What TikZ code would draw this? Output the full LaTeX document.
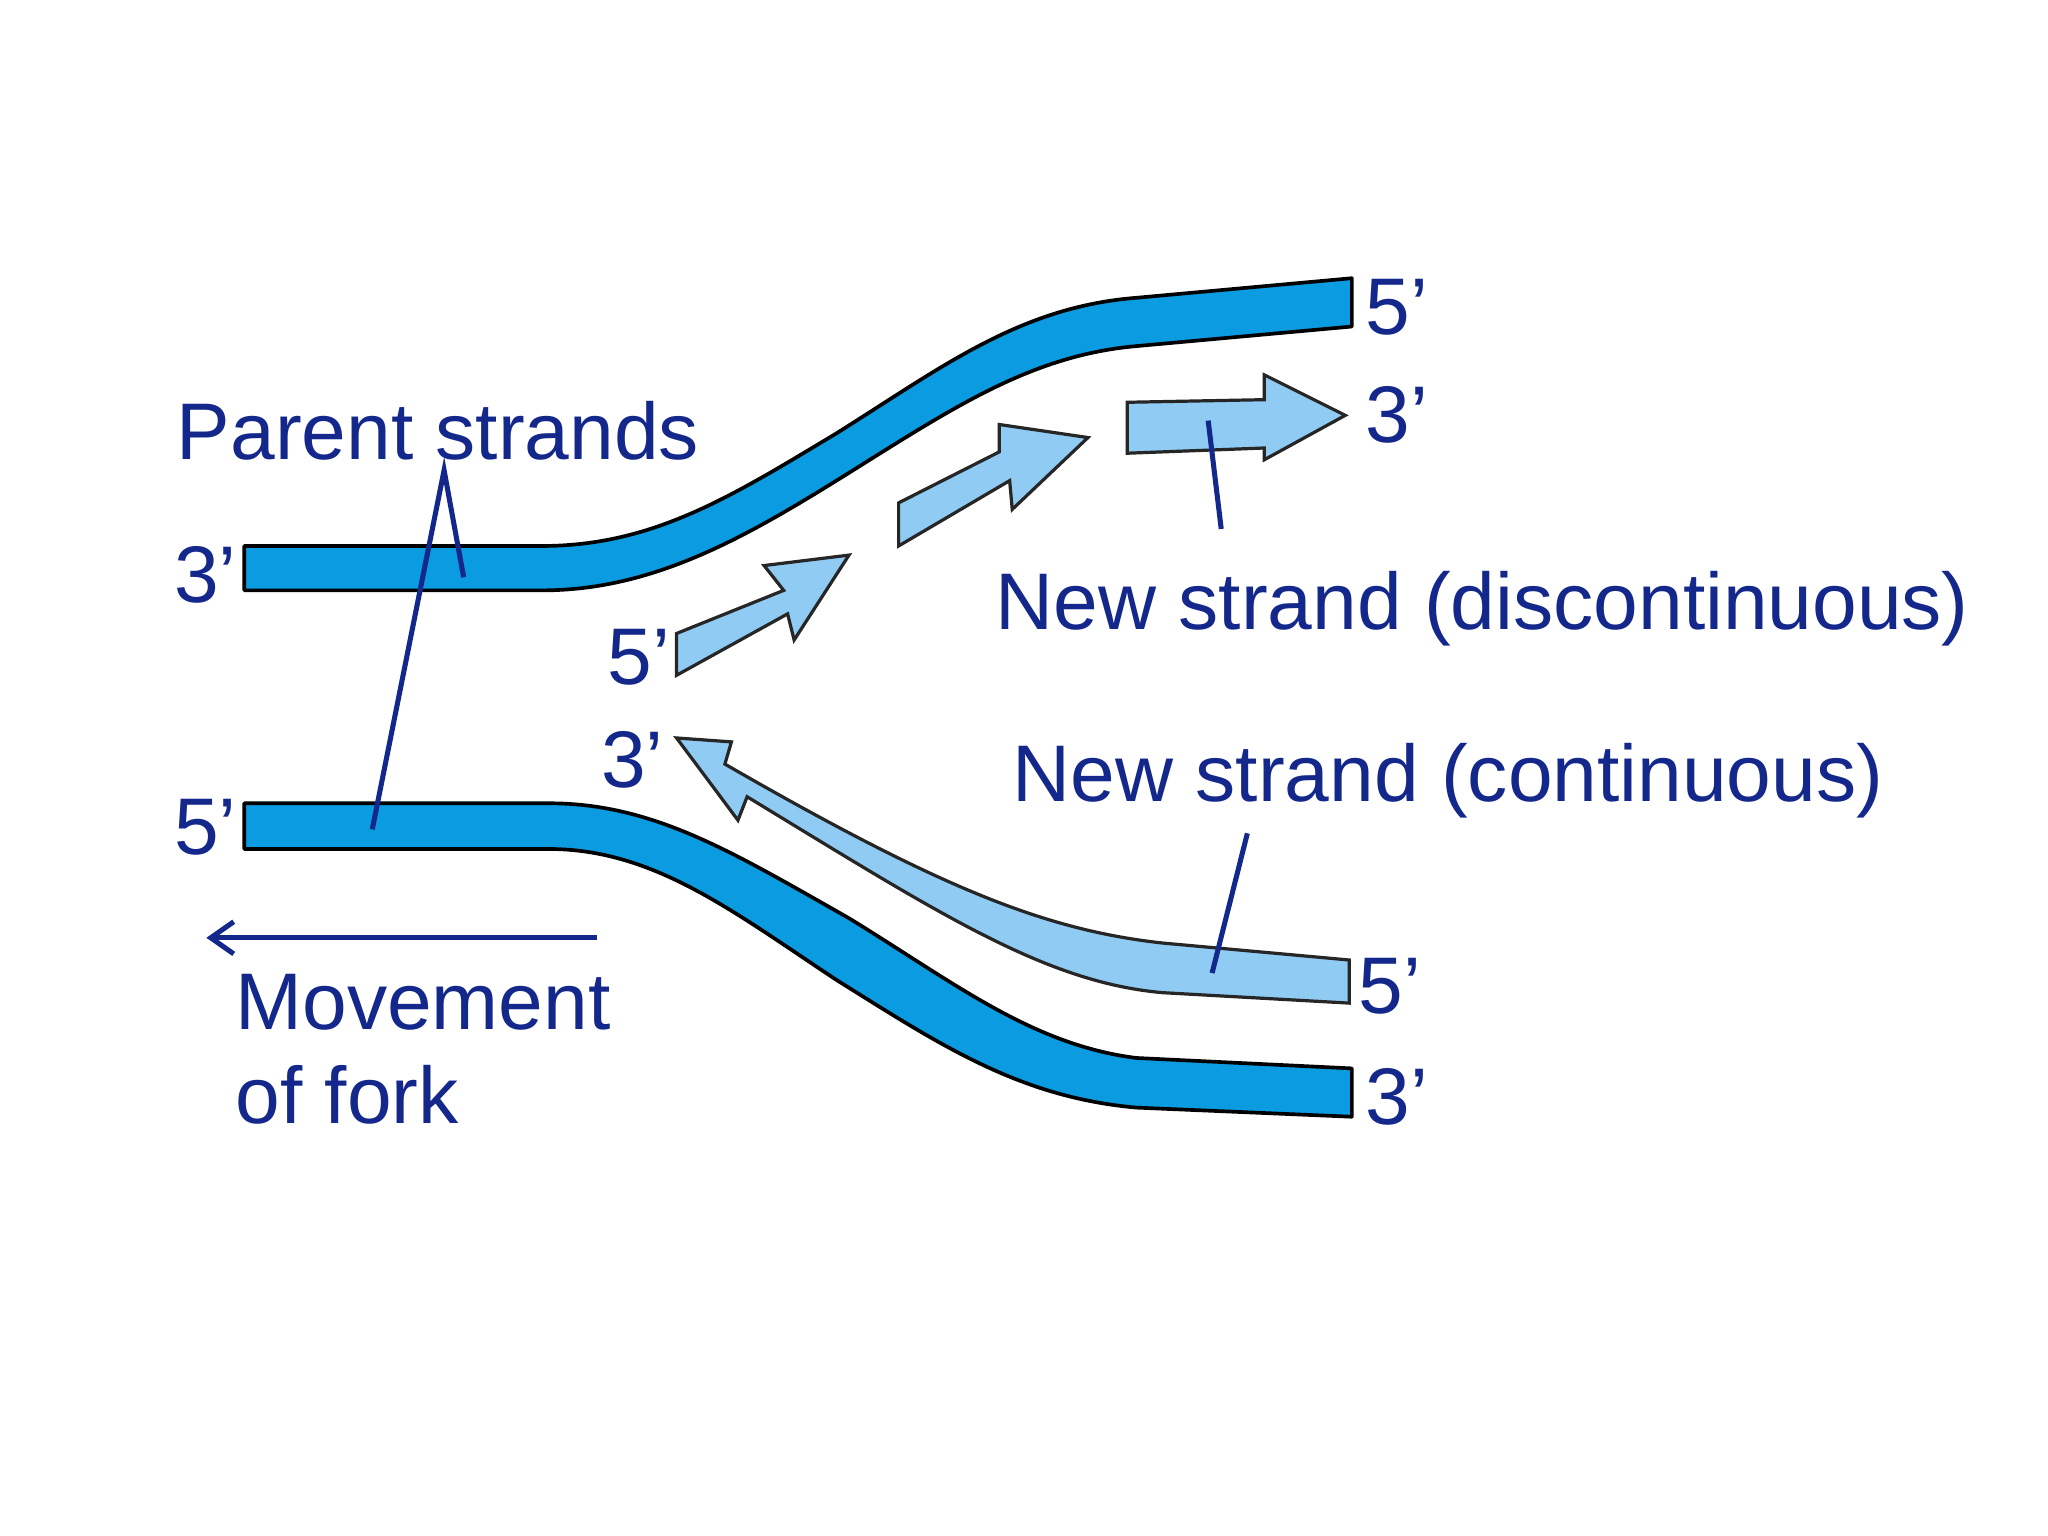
\documentclass[tikz,border=0pt]{standalone}
\usepackage{fontspec}
\usetikzlibrary{arrows.meta}
\setmainfont{Liberation Sans}
\begin{document}
\begin{tikzpicture}[x=0.02cm,y=-0.02cm,
  strand/.style={fill=sblue,draw=black,line width=1.6pt,line join=round},
  newst/.style={fill=lblue,draw=black!85,line width=1.4pt,line join=miter},
  lbl/.style={text=tblue,font=\fontsize{35}{40}\selectfont,inner sep=0pt,anchor=west},
  ptr/.style={draw=tblue,line width=2.2pt}]
\definecolor{sblue}{HTML}{0A9BE0}
\definecolor{lblue}{HTML}{8FCBF3}
\definecolor{tblue}{HTML}{14288C}
\useasboundingbox (0,0) rectangle (1568,1176);
% parent strands
\path[strand] (187,418)--(415,418) .. controls (500,418) and (560,380) .. (640,332) .. controls (720,282) and (780,235) .. (870,228) -- (1035,213)
 -- (1035,250) -- (870,265) .. controls (790,272) and (730,312) .. (650,362) .. controls (570,412) and (500,452) .. (415,452) -- (187,452) -- cycle;
\path[strand] (187,615)--(420,615) .. controls (500,615) and (560,652) .. (650,703) .. controls (730,752) and (790,800) .. (870,810) -- (1035,818)
 -- (1035,855) -- (870,848) .. controls (780,840) and (720,800) .. (640,750) .. controls (560,697) and (500,650) .. (420,650) -- (187,650) -- cycle;
% continuous new strand
\path[newst] (1033,735) -- (890,722) .. controls (800,712) and (720,680) .. (555,585) -- (560,568) -- (518,565) -- (565,628) -- (572,610)
 .. controls (720,700) and (800,752) .. (890,760) -- (1033,768) -- cycle;
% fragments
\path[newst] (518,485) -- (600,452) -- (585,433) -- (650,425) -- (608,490) -- (603,470) -- (518,517) -- cycle;
\path[newst] (688,385) -- (765,346) -- (765,325) -- (833,335) -- (775,390) -- (773,368) -- (688,418) -- cycle;
\path[newst] (863,308) -- (968,306) -- (968,287) -- (1030,318) -- (968,352) -- (968,343) -- (863,347) -- cycle;
% labels
\node[lbl] (t5a) at (1045,235) {5’};
\node[lbl] (t3a) at (1045,318) {3’};
\node[lbl] (l3) at (133,440) {3’};
\node[lbl] (l5) at (133,633) {5’};
\node[lbl] (m5) at (465,503) {5’};
\node[lbl] (m3) at (460,582) {3’};
\node[lbl] (b5) at (1040,755) {5’};
\node[lbl] (b3) at (1045,840) {3’};
\node[lbl] (ps) at (135,330) {Parent strands};
\node[lbl] (nd) at (762,466) {New strand (discontinuous)};
\node[lbl] (nc) at (775,598) {New strand (continuous)};
\node[lbl] (mv) at (180,767) {Movement};
\node[lbl] (of) at (180,838) {of fork};
% pointers
\coordinate (apex) at (340,360);
\coordinate (p1) at (355,442);
\coordinate (p2) at (285,635);
\draw[ptr] (p1) -- (apex) -- (p2);
\coordinate (d1) at (925,322); \coordinate (d2) at (935,405);
\draw[ptr] (d1) -- (d2);
\coordinate (c1) at (955,638); \coordinate (c2) at (928,745);
\draw[ptr] (c1) -- (c2);
\coordinate (ma) at (457,718); \coordinate (mb) at (158,718);
\draw[ptr,-{Straight Barb[length=10pt,width=14pt]}] (ma) -- (mb);
\end{tikzpicture}
\end{document}
